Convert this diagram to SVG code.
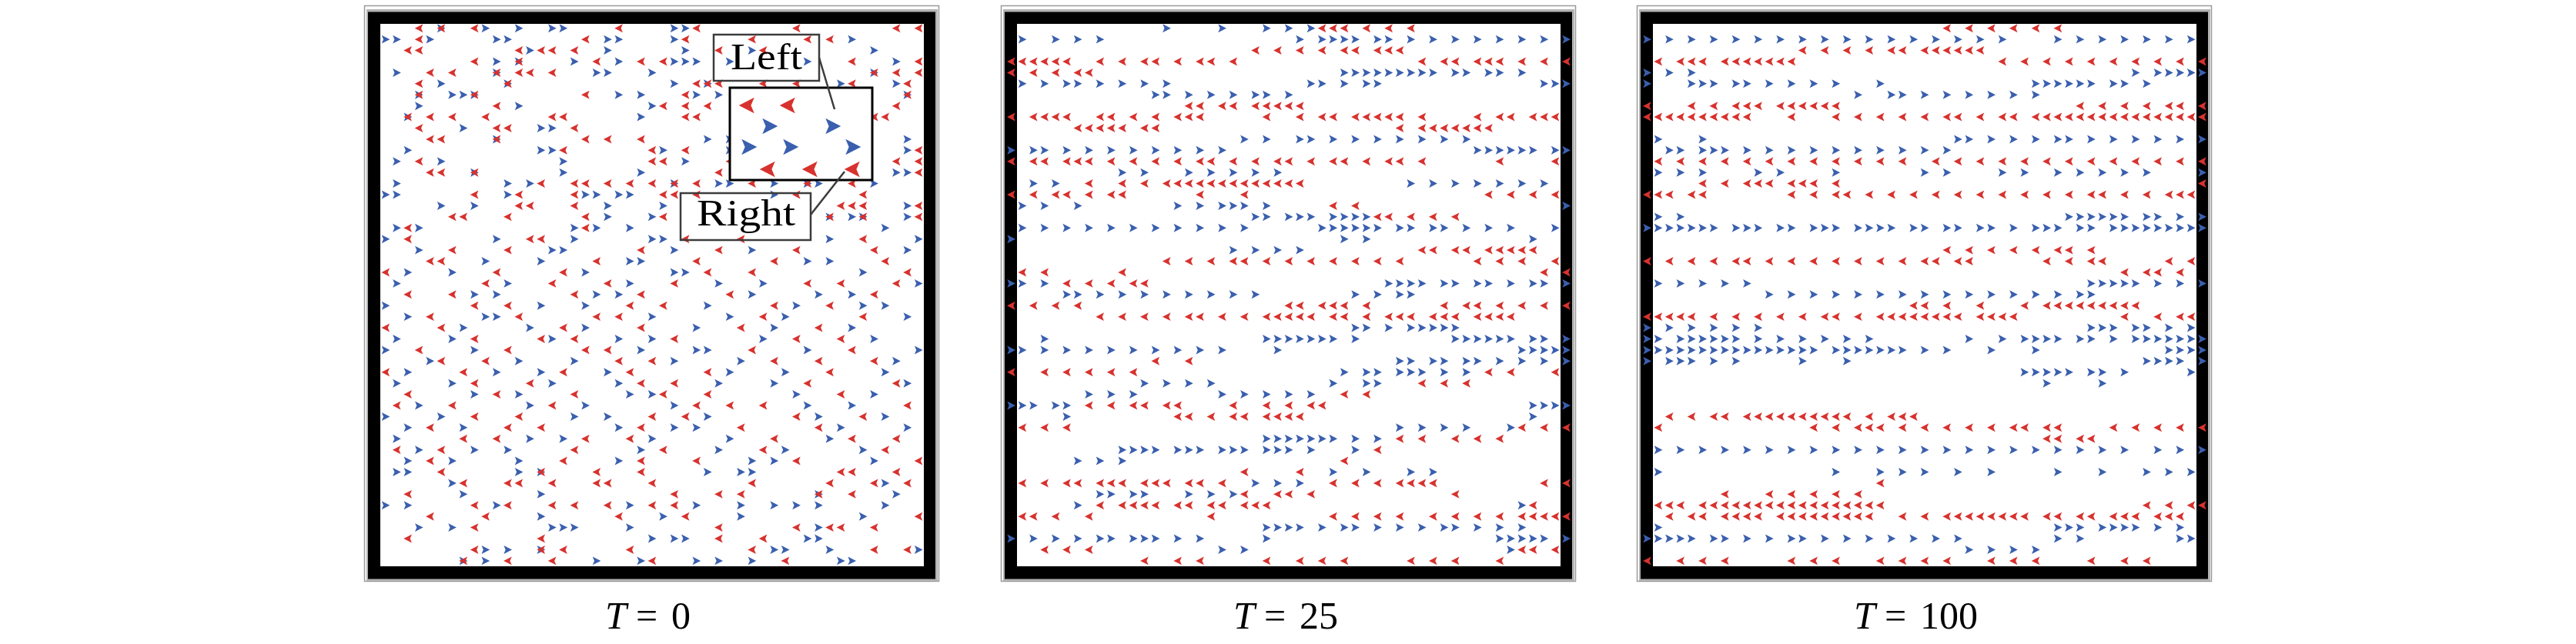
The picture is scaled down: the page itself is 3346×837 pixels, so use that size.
<svg xmlns="http://www.w3.org/2000/svg" xmlns:xlink="http://www.w3.org/1999/xlink" width="3346" height="837" viewBox="0 0 3346 837">
<style>
.pr{fill:none;stroke:none;marker-start:url(#mr);marker-mid:url(#mr);marker-end:url(#mr)}
.pb{fill:none;stroke:none;marker-start:url(#mb);marker-mid:url(#mb);marker-end:url(#mb)}
.f1{fill:#fff;stroke:#9a9a9a;stroke-width:1.5}
.f2{fill:#b4b4b4}
.f3{fill:#000}
.f4{fill:#fff}
.lbl{fill:none;stroke:#3c3c3c;stroke-width:2.5}
.txt{font-family:"Liberation Serif","DejaVu Serif",serif;fill:#000}
</style>
<defs>
<path id="tR" d="M-.38 0L.36-.38 .2 0 .36 .38Z" fill="#d7322e"/>
<path id="tB" d="M.38 0L-.36-.38-.2 0-.36 .38Z" fill="#3a5fae"/>
<marker id="mr" markerUnits="userSpaceOnUse" overflow="visible" refX="0" refY="0" markerWidth="1" markerHeight="1"><path d="M-.38 0L.36-.38 .2 0 .36 .38Z" fill="#d7322e"/></marker>
<marker id="mb" markerUnits="userSpaceOnUse" overflow="visible" refX="0" refY="0" markerWidth="1" markerHeight="1"><path d="M.38 0L-.36-.38-.2 0-.36 .38Z" fill="#3a5fae"/></marker>
<g id="frame">
<rect class="f1" x="473.5" y="7.5" width="746" height="748"/>
<rect class="f2" x="476" y="12" width="742" height="743"/>
<rect class="f3" x="478" y="15.5" width="737" height="737"/>
<rect class="f4" x="494" y="31" width="706" height="705"/>
</g>
</defs>
<rect width="3346" height="837" fill="#fff"/>

<g id="panel-t0">
<use xlink:href="#frame"/>
<g transform="translate(486.5,22.3) scale(14.42)">
<polyline class="pb" points="6,1 10,1 13,1 16,1 17,1 27,1 28,1 1,2 2,2 5,2 11,2 12,2 21,2 22,2 27,2 43,2 14,3 21,3 28,3 34,3 45,3 11,4 13,4 18,4 22,4 27,4 28,4 29,4 32,4 39,4 47,4 2,5 11,5 20,5 21,5 25,5 45,5 6,6 12,6 27,6 30,6 42,6 47,6 4,7 7,7 8,7 9,7 22,7 24,7 29,7 31,7 48,7 4,8 13,8 25,8 3,9 24,9 8,10 15,10 16,10 11,11 30,11 32,11 48,11 3,12 15,12 16,12 26,12 32,12 48,12 2,13 6,13 17,13 28,13 9,14 17,14 24,14 47,14 48,14 2,15 12,15 14,15 27,15 31,15 32,15 36,15 39,15 40,15 45,15 1,16 2,16 12,16 19,16 20,16 22,16 23,16 36,16 6,17 9,17 21,17 26,17 48,17 21,18 25,18 41,18 43,18 44,18 48,18 2,19 4,19 18,19 20,19 23,19 46,19 1,20 11,20 18,20 25,20 26,20 41,20 49,20 4,21 16,21 17,21 27,21 34,21 48,21 10,22 15,22 23,22 24,22 39,22 41,22 3,23 7,23 19,23 27,23 28,23 44,23 2,24 12,24 23,24 31,24 35,24 49,24 9,25 11,25 20,25 22,25 34,25 40,25 43,25 1,26 15,26 19,26 30,26 38,26 44,26 46,26 3,27 10,27 11,27 25,27 32,27 37,27 48,27 8,28 14,28 19,28 29,28 36,28 43,28 2,29 7,29 16,29 22,29 25,29 35,29 45,29 1,30 9,30 24,30 29,30 30,30 39,30 49,30 5,31 13,31 18,31 27,31 33,31 47,31 3,32 11,32 15,32 21,32 32,32 37,32 46,32 2,33 7,33 16,33 22,33 31,33 36,33 48,33 9,34 13,34 23,34 25,34 38,34 45,34 4,35 14,35 19,35 27,35 39,35 43,35 1,36 6,36 18,36 21,36 30,36 40,36 46,36 3,37 8,37 22,37 27,37 29,37 42,37 48,37 2,38 14,38 17,38 25,38 32,38 41,38 4,39 9,39 12,39 24,39 31,39 37,39 44,39 3,40 7,40 13,40 22,40 34,40 36,40 45,40 2,41 3,41 13,41 15,41 30,41 33,41 34,41 7,42 46,42 8,43 15,43 40,43 47,43 1,44 3,44 11,44 23,44 29,44 33,44 36,44 38,44 40,44 46,44 15,45 26,45 33,45 44,45 4,46 7,46 16,46 17,46 18,46 23,46 40,46 25,47 27,47 28,47 39,47 40,47 10,48 12,48 15,48 36,48 37,48 41,48 49,48 8,49 10,49 20,49 24,49 29,49 31,49 34,49 42,49 43,49"/>
<polyline class="pr" points="4,1 6,1 9,1 22,1 29,1 38,1 47,1 49,1 4,2 19,2 28,2 34,2 39,2 41,2 3,3 4,3 13,3 15,3 16,3 18,3 31,3 35,3 9,4 13,4 20,4 24,4 26,4 43,4 49,4 5,5 7,5 11,5 13,5 14,5 16,5 45,5 47,5 49,5 4,6 12,6 29,6 30,6 31,6 35,6 38,6 43,6 48,6 4,7 9,7 19,7 28,7 48,7 11,8 26,8 28,8 30,8 47,8 3,9 5,9 7,9 10,9 16,9 17,9 28,9 29,9 45,9 46,9 4,10 11,10 12,10 18,10 5,11 6,11 11,11 19,11 21,11 24,11 17,12 25,12 28,12 49,12 4,13 25,13 26,13 32,13 47,13 49,13 5,14 6,14 9,14 31,14 49,14 15,15 18,15 19,15 21,15 23,15 25,15 27,15 29,15 34,15 39,15 43,15 9,16 13,16 18,16 26,16 27,16 29,16 38,16 44,16 13,17 14,17 18,17 42,17 43,17 44,17 49,17 7,18 8,18 12,18 19,18 26,18 41,18 44,18 49,18 3,19 19,19 3,20 14,20 15,20 28,20 33,20 44,20 7,21 12,21 24,21 31,21 38,21 45,21 5,22 6,22 20,22 29,22 36,22 46,22 1,23 11,23 17,23 30,23 34,23 48,23 10,24 16,24 21,24 27,24 39,24 42,24 47,24 3,25 7,25 18,25 24,25 32,25 45,25 9,26 12,26 23,26 26,26 36,26 41,26 5,27 13,27 20,27 22,27 35,27 44,27 1,28 6,28 17,28 24,28 33,28 40,28 9,29 15,29 18,29 27,29 38,29 42,29 4,30 12,30 19,30 21,30 34,30 43,30 6,31 10,31 22,31 25,31 36,31 40,31 45,31 1,32 8,32 17,32 23,32 30,32 41,32 9,33 14,33 24,33 27,33 39,33 47,33 3,34 11,34 18,34 26,34 30,34 42,34 2,35 7,35 16,35 29,35 32,35 35,35 48,35 9,36 13,36 25,36 28,36 38,36 44,36 5,37 12,37 15,37 24,37 33,37 40,37 8,38 11,38 19,38 23,38 36,38 43,38 47,38 2,39 6,39 18,39 26,39 35,39 46,39 5,40 17,40 24,40 29,40 38,40 49,40 6,41 15,41 20,41 24,41 42,41 43,41 47,41 8,42 12,42 13,42 16,42 20,42 21,42 25,42 34,42 41,42 45,42 48,42 3,43 27,43 31,43 33,43 40,43 43,43 9,44 12,44 16,44 18,44 21,44 25,44 27,44 5,45 10,45 22,45 28,45 49,45 9,46 31,46 38,46 41,46 42,46 45,46 3,47 15,47 31,47 35,47 9,48 15,48 17,48 23,48 34,48 45,48 48,48 8,49 12,49 16,49 25,49 37,49"/>
</g>
<g id="legend">
<rect x="948" y="114" width="185" height="120" fill="#fff" stroke="#000" stroke-width="3"/>
<use xlink:href="#tR" transform="translate(970,137) scale(27)"/>
<use xlink:href="#tR" transform="translate(1023,137) scale(27)"/>
<use xlink:href="#tB" transform="translate(1000,164) scale(27)"/>
<use xlink:href="#tB" transform="translate(1082,164) scale(27)"/>
<use xlink:href="#tB" transform="translate(973,191) scale(27)"/>
<use xlink:href="#tB" transform="translate(1027,191) scale(27)"/>
<use xlink:href="#tB" transform="translate(1108,191) scale(27)"/>
<use xlink:href="#tR" transform="translate(997,220) scale(27)"/>
<use xlink:href="#tR" transform="translate(1052,220) scale(27)"/>
<use xlink:href="#tR" transform="translate(1107,220) scale(27)"/>
</g>
<g id="label-left">
<rect class="lbl" x="927" y="45" width="137" height="60"/>
<line class="lbl" x1="1064" y1="75" x2="1084" y2="142"/>
<text class="txt" x="949" y="90" font-size="48" textLength="93" lengthAdjust="spacingAndGlyphs">Left</text>
</g>
<g id="label-right">
<rect class="lbl" x="884" y="251" width="169" height="61"/>
<line class="lbl" x1="1053" y1="279" x2="1097" y2="223"/>
<text class="txt" x="905" y="293" font-size="49" textLength="128" lengthAdjust="spacingAndGlyphs">Right</text>
</g>
</g>

<g id="panel-t25">
<use xlink:href="#frame" transform="translate(827,0)"/>
<g transform="translate(1313.5,22.3) scale(14.42)">
<polyline class="pb" points="14,1 19,1 23,1 25,1 27,1 1,2 4,2 6,2 8,2 26,2 28,2 29,2 30,2 31,2 33,2 34,2 36,2 38,2 40,2 42,2 44,2 46,2 48,2 50,2 30,5 31,5 32,5 33,5 34,5 35,5 36,5 37,5 38,5 40,5 41,5 43,5 44,5 46,5 1,6 3,6 5,6 6,6 8,6 10,6 12,6 14,6 27,6 28,6 30,6 32,6 33,6 48,6 49,6 50,6 13,7 14,7 16,7 18,7 20,7 22,7 23,7 25,7 21,11 23,11 26,11 27,11 29,11 31,11 33,11 35,11 37,11 39,11 41,11 0,12 2,12 3,12 5,12 7,12 9,12 11,12 13,12 15,12 17,12 19,12 42,12 43,12 44,12 45,12 46,12 47,12 49,12 50,12 10,14 12,14 16,14 18,14 20,14 22,14 24,14 2,15 4,15 36,15 38,15 40,15 42,15 44,15 46,15 48,15 1,17 3,17 6,17 15,17 17,17 19,17 20,17 21,17 23,17 50,17 22,18 23,18 25,18 26,18 27,18 29,18 30,18 31,18 32,18 1,19 3,19 5,19 7,19 9,19 11,19 13,19 15,19 17,19 19,19 21,19 28,19 29,19 30,19 31,19 32,19 33,19 35,19 36,19 38,19 39,19 41,19 43,19 45,19 49,19 0,20 30,20 32,20 47,20 20,21 22,21 24,21 26,21 0,24 1,24 3,24 34,24 35,24 36,24 37,24 39,24 40,24 42,24 43,24 45,24 47,24 48,24 50,24 5,25 6,25 8,25 10,25 12,25 14,25 16,25 18,25 20,25 22,25 31,25 33,25 35,25 36,25 31,28 32,28 34,28 36,28 37,28 38,28 39,28 40,28 3,29 23,29 24,29 25,29 26,29 27,29 28,29 29,29 31,29 40,29 41,29 42,29 43,29 44,29 45,29 47,29 48,29 50,29 0,30 1,30 3,30 5,30 7,30 9,30 11,30 13,30 15,30 17,30 19,30 24,30 46,30 47,30 48,30 49,30 50,30 35,31 36,31 38,31 39,31 41,31 42,31 44,31 46,31 48,31 50,31 30,32 32,32 33,32 35,32 36,32 37,32 39,32 41,32 12,33 14,33 16,33 18,33 29,33 32,33 33,33 7,34 9,34 11,34 19,34 21,34 23,34 25,34 27,34 0,35 1,35 2,35 4,35 5,35 47,35 48,35 49,35 50,35 5,36 47,36 35,37 37,37 39,37 41,37 45,37 23,38 24,38 25,38 26,38 27,38 28,38 29,38 31,38 33,38 10,39 11,39 12,39 13,39 15,39 16,39 17,39 19,39 20,39 21,39 23,39 24,39 25,39 27,39 31,39 6,40 8,40 10,40 29,41 32,41 36,41 38,41 22,42 24,42 26,42 8,43 9,43 11,43 12,43 16,43 18,43 20,43 6,44 46,44 23,46 24,46 25,46 26,46 28,46 30,46 31,46 33,46 35,46 37,46 39,46 40,46 42,46 44,46 46,46 0,47 2,47 4,47 6,47 8,47 9,47 11,47 12,47 13,47 15,47 17,47 23,47 44,47 45,47 46,47 47,47 48,47 50,47 19,48 21,48 45,48"/>
<polyline class="pr" points="28,1 29,1 30,1 32,1 34,1 36,1 22,3 24,3 26,3 28,3 30,3 31,3 33,3 34,3 35,3 0,4 1,4 2,4 3,4 4,4 5,4 8,4 10,4 12,4 13,4 15,4 17,4 18,4 20,4 37,4 39,4 40,4 42,4 43,4 44,4 46,4 48,4 50,4 0,5 2,5 4,5 6,5 7,5 16,8 17,8 19,8 20,8 22,8 23,8 24,8 25,8 26,8 0,9 2,9 3,9 4,9 5,9 8,9 9,9 11,9 13,9 15,9 16,9 17,9 23,9 26,9 28,9 29,9 31,9 32,9 33,9 34,9 35,9 37,9 42,9 44,9 45,9 47,9 48,9 49,9 6,10 7,10 8,10 9,10 10,10 12,10 13,10 35,10 37,10 38,10 39,10 40,10 41,10 42,10 43,10 0,13 2,13 3,13 5,13 6,13 7,13 9,13 11,13 13,13 15,13 17,13 18,13 20,13 22,13 24,13 25,13 27,13 29,13 30,13 32,13 34,13 35,13 37,13 44,13 49,13 7,15 10,15 12,15 14,15 15,15 16,15 17,15 18,15 19,15 20,15 21,15 22,15 23,15 24,15 25,15 26,15 0,16 2,16 4,16 5,16 7,16 9,16 10,16 17,16 21,16 43,16 45,16 47,16 49,16 29,17 31,17 33,18 34,18 36,18 38,18 40,18 37,21 38,21 40,21 41,21 43,21 44,21 45,21 46,21 47,21 14,22 16,22 18,22 20,22 21,22 23,22 25,22 27,22 29,22 31,22 33,22 35,22 42,22 44,22 46,22 49,22 1,23 3,23 10,23 48,23 50,23 5,24 7,24 9,24 11,24 12,24 0,26 2,26 4,26 6,26 25,26 26,26 28,26 29,26 30,26 32,26 39,26 41,26 42,26 44,26 46,26 48,26 50,26 8,27 10,27 12,27 14,27 16,27 17,27 19,27 21,27 23,27 24,27 25,27 26,27 27,27 29,27 30,27 32,27 34,27 35,27 36,27 38,27 39,27 40,27 42,27 43,27 44,27 45,27 13,31 16,31 0,32 3,32 5,32 7,32 9,32 11,32 43,32 45,32 49,32 37,33 39,33 41,33 30,34 32,34 7,35 9,35 11,35 12,35 14,35 15,35 20,35 23,35 25,35 27,35 28,35 15,36 16,36 18,36 20,36 21,36 23,36 24,36 25,36 26,36 1,37 3,37 5,37 46,37 48,37 50,37 35,38 37,38 40,38 42,38 44,38 33,39 30,40 21,41 26,41 1,42 3,42 5,42 6,42 8,42 9,42 10,42 12,42 13,42 14,42 16,42 17,42 19,42 29,42 31,42 33,42 35,42 36,42 37,42 38,42 48,42 50,42 21,43 24,43 25,43 27,43 40,43 8,44 10,44 11,44 12,44 13,44 15,44 16,44 18,44 19,44 21,44 22,44 23,44 47,44 1,45 2,45 4,45 7,45 18,45 29,45 31,45 33,45 35,45 38,45 40,45 42,45 44,45 46,45 47,45 48,45 49,45 50,45 3,48 5,48 7,48 46,48 47,48 49,48 12,49 15,49 17,49 23,49 26,49 28,49 30,49 36,49 38,49 40,49 44,49"/>
</g>
</g>

<g id="panel-t100">
<use xlink:href="#frame" transform="translate(1653,0)"/>
<g transform="translate(2139.5,22.3) scale(14.42)">
<polyline class="pb" points="0,2 2,2 4,2 6,2 8,2 10,2 12,2 14,2 16,2 18,2 20,2 22,2 24,2 26,2 28,2 30,2 32,2 37,2 39,2 41,2 43,2 45,2 47,2 49,2 0,5 2,5 4,5 44,5 46,5 47,5 48,5 49,5 50,5 0,6 4,6 5,6 6,6 8,6 9,6 11,6 13,6 15,6 17,6 21,6 35,6 36,6 37,6 38,6 39,6 40,6 42,6 43,6 45,6 19,7 22,7 23,7 25,7 27,7 29,7 31,7 33,7 35,7 1,11 5,11 28,11 29,11 31,11 33,11 35,11 37,11 38,11 40,11 42,11 44,11 46,11 48,11 50,11 2,12 3,12 5,12 6,12 7,12 9,12 11,12 13,12 15,12 17,12 19,12 21,12 23,12 25,12 27,12 1,14 3,14 5,14 10,14 12,14 17,14 25,14 27,14 32,14 34,14 37,14 39,14 41,14 43,14 45,14 50,14 1,18 3,18 38,18 39,18 40,18 41,18 42,18 43,18 45,18 46,18 48,18 50,18 0,19 1,19 2,19 3,19 4,19 5,19 6,19 8,19 9,19 10,19 12,19 13,19 15,19 16,19 17,19 19,19 20,19 21,19 22,19 24,19 25,19 27,19 28,19 30,19 31,19 33,19 35,19 36,19 37,19 39,19 40,19 42,19 43,19 44,19 45,19 46,19 47,19 48,19 49,19 50,19 1,24 3,24 5,24 7,24 9,24 40,24 41,24 42,24 43,24 44,24 46,24 48,24 50,24 11,25 13,25 15,25 17,25 19,25 21,25 23,25 25,25 27,25 29,25 31,25 33,25 35,25 37,25 39,25 40,25 0,28 2,28 4,28 6,28 8,28 10,28 40,28 41,28 42,28 44,28 45,28 47,28 49,28 0,29 1,29 3,29 4,29 5,29 6,29 7,29 8,29 10,29 12,29 14,29 16,29 18,29 20,29 29,29 32,29 34,29 35,29 36,29 37,29 39,29 40,29 42,29 44,29 45,29 46,29 47,29 48,29 49,29 50,29 0,30 1,30 2,30 3,30 4,30 5,30 6,30 7,30 8,30 9,30 10,30 11,30 12,30 13,30 14,30 15,30 17,30 18,30 19,30 20,30 21,30 22,30 23,30 25,30 27,30 31,30 35,30 47,30 48,30 49,30 50,30 0,31 2,31 3,31 4,31 6,31 8,31 14,31 18,31 45,31 46,31 47,31 48,31 50,31 34,32 35,32 36,32 37,32 38,32 40,32 41,32 43,32 49,32 36,33 41,33 1,39 3,39 5,39 7,39 9,39 11,39 13,39 15,39 17,39 19,39 21,39 23,39 25,39 27,39 29,39 31,39 33,39 35,39 37,39 39,39 41,39 43,39 46,39 48,39 50,39 1,41 17,41 21,41 23,41 25,41 28,41 31,41 37,41 41,41 45,41 47,41 49,41 1,46 37,46 38,46 39,46 41,46 42,46 43,46 44,46 46,46 48,46 0,47 1,47 2,47 3,47 4,47 6,47 7,47 9,47 11,47 13,47 14,47 16,47 18,47 20,47 22,47 24,47 26,47 28,47 37,47 39,47 48,47 49,47 29,48 31,48 33,48 35,48"/>
<polyline class="pr" points="27,1 29,1 31,1 33,1 35,1 37,1 14,3 16,3 18,3 20,3 22,3 23,3 25,3 26,3 27,3 28,3 29,3 30,3 1,4 3,4 4,4 5,4 7,4 8,4 9,4 10,4 11,4 12,4 13,4 32,4 34,4 36,4 38,4 40,4 42,4 44,4 46,4 48,4 50,4 0,8 4,8 6,8 8,8 9,8 10,8 12,8 13,8 14,8 15,8 16,8 17,8 39,8 41,8 43,8 45,8 47,8 48,8 50,8 0,9 1,9 2,9 3,9 4,9 5,9 6,9 7,9 8,9 9,9 13,9 17,9 19,9 21,9 23,9 25,9 27,9 28,9 30,9 32,9 33,9 35,9 36,9 37,9 38,9 39,9 40,9 41,9 42,9 43,9 44,9 45,9 46,9 47,9 48,9 49,9 50,9 1,13 3,13 5,13 7,13 9,13 11,13 13,13 15,13 17,13 19,13 21,13 23,13 26,13 28,13 30,13 32,13 34,13 36,13 38,13 40,13 42,13 44,13 46,13 48,13 50,13 5,15 7,15 9,15 10,15 11,15 13,15 14,15 15,15 17,15 50,15 0,16 1,16 2,16 4,16 5,16 13,16 15,16 17,16 18,16 20,16 22,16 24,16 26,16 28,16 30,16 32,16 34,16 36,16 38,16 40,16 41,16 43,16 45,16 47,16 48,16 49,16 27,21 29,21 31,21 33,21 35,21 37,21 38,21 40,21 0,22 2,22 4,22 6,22 8,22 9,22 11,22 13,22 15,22 17,22 19,22 21,22 23,22 25,22 26,22 28,22 29,22 36,22 38,22 40,22 41,22 47,22 49,22 43,23 45,23 46,23 48,23 24,26 25,26 27,26 30,26 34,26 36,26 37,26 38,26 39,26 40,26 41,26 42,26 43,26 44,26 0,27 1,27 2,27 3,27 4,27 6,27 8,27 10,27 12,27 14,27 16,27 17,27 19,27 21,27 22,27 23,27 24,27 25,27 26,27 27,27 28,27 30,27 31,27 32,27 33,27 43,27 46,27 48,27 49,27 2,36 4,36 6,36 7,36 9,36 10,36 11,36 12,36 13,36 14,36 15,36 16,36 17,36 18,36 20,36 22,36 23,36 24,36 1,37 15,37 17,37 19,37 20,37 21,37 23,37 25,37 27,37 29,37 31,37 33,37 34,37 36,37 37,37 42,37 44,37 46,37 48,37 50,37 36,38 37,38 39,38 40,38 21,42 7,43 11,43 13,43 15,43 17,43 19,43 1,44 2,44 3,44 5,44 6,44 7,44 8,44 9,44 10,44 11,44 12,44 13,44 14,44 15,44 16,44 17,44 18,44 19,44 20,44 21,44 45,44 47,44 49,44 50,44 2,45 4,45 5,45 7,45 8,45 9,45 10,45 12,45 13,45 14,45 15,45 16,45 17,45 18,45 19,45 20,45 23,45 25,45 27,45 28,45 29,45 30,45 31,45 32,45 33,45 34,45 36,45 37,45 39,45 40,45 42,45 43,45 44,45 46,45 47,45 48,45 0,49 3,49 5,49 7,49 13,49 15,49 17,49 21,49 23,49 25,49 27,49 31,49 33,49 35,49 40,49 43,49 45,49"/>
</g>
</g>

<g id="captions" class="txt" font-size="50">
<text x="786" y="817"><tspan font-style="italic">T</tspan><tspan x="826">=</tspan><tspan x="872">0</tspan></text>
<text x="1602" y="817"><tspan font-style="italic">T</tspan><tspan x="1642">=</tspan><tspan x="1688">25</tspan></text>
<text x="2408" y="817"><tspan font-style="italic">T</tspan><tspan x="2448">=</tspan><tspan x="2494">100</tspan></text>
</g>
</svg>
